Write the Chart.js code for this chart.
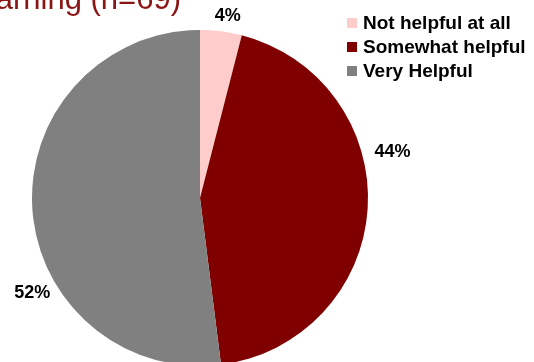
<!DOCTYPE html>
<html>
<head>
<meta charset="utf-8">
<script src="https://cdn.jsdelivr.net/npm/chart.js@4/dist/chart.umd.min.js"></script>
<style>
html,body{margin:0;padding:0;background:#fff;overflow:hidden;width:534px;height:362px;}
canvas{display:block;}
</style>
</head>
<body>
<canvas id="c" width="534" height="380"></canvas>
<script>
const categories = ["Not helpful at all", "Somewhat helpful", "Very Helpful"];
const values = [4, 44, 52];
const valueLabels = ["4%", "44%", "52%"];
const colors = ["#FFCCCC", "#800000", "#808080"];
const titleText = "Learning (n=69)";

// label placement: angle shift from slice middle (deg) and distance beyond radius (px)
const labelShift = [1.5, -17, -26];
const labelGap = [16, 30, 25];

const extras = {
  id: "extras",
  afterDraw(chart) {
    const ctx = chart.ctx;
    ctx.save();
    // title (cut off at top)
    ctx.fillStyle = "#8B1414";
    ctx.font = "31px 'Liberation Sans', Arial, sans-serif";
    ctx.textAlign = "right";
    ctx.textBaseline = "alphabetic";
    ctx.fillText(titleText, 181, 9);

    // data labels
    const meta = chart.getDatasetMeta(0);
    ctx.fillStyle = "#000";
    ctx.font = "bold 18px 'Liberation Sans', Arial, sans-serif";
    ctx.textAlign = "center";
    ctx.textBaseline = "middle";
    meta.data.forEach((arc, i) => {
      const p = arc.getProps(["x", "y", "startAngle", "endAngle", "outerRadius"], true);
      const mid = (p.startAngle + p.endAngle) / 2 + labelShift[i] * Math.PI / 180;
      const r = p.outerRadius + labelGap[i];
      ctx.fillText(valueLabels[i], p.x + Math.cos(mid) * r, p.y + Math.sin(mid) * r);
    });

    // legend
    ctx.font = "bold 19px 'Liberation Sans', Arial, sans-serif";
    ctx.textAlign = "left";
    categories.forEach((c, i) => {
      const y = 23 + i * 24;
      ctx.fillStyle = colors[i];
      ctx.fillRect(347, y - 5, 10, 10);
      ctx.fillStyle = "#000";
      ctx.fillText(c, 363, y + 1);
    });
    ctx.restore();
  }
};

new Chart(document.getElementById("c"), {
  type: "pie",
  data: {
    labels: categories,
    datasets: [{
      data: values,
      backgroundColor: colors,
      borderWidth: 0
    }]
  },
  options: {
    responsive: false,
    animation: false,
    layout: { padding: { left: 32, right: 166, top: 30, bottom: 14 } },
    plugins: {
      legend: { display: false },
      tooltip: { enabled: false },
      title: { display: false }
    }
  },
  plugins: [extras]
});
</script>
</body>
</html>
